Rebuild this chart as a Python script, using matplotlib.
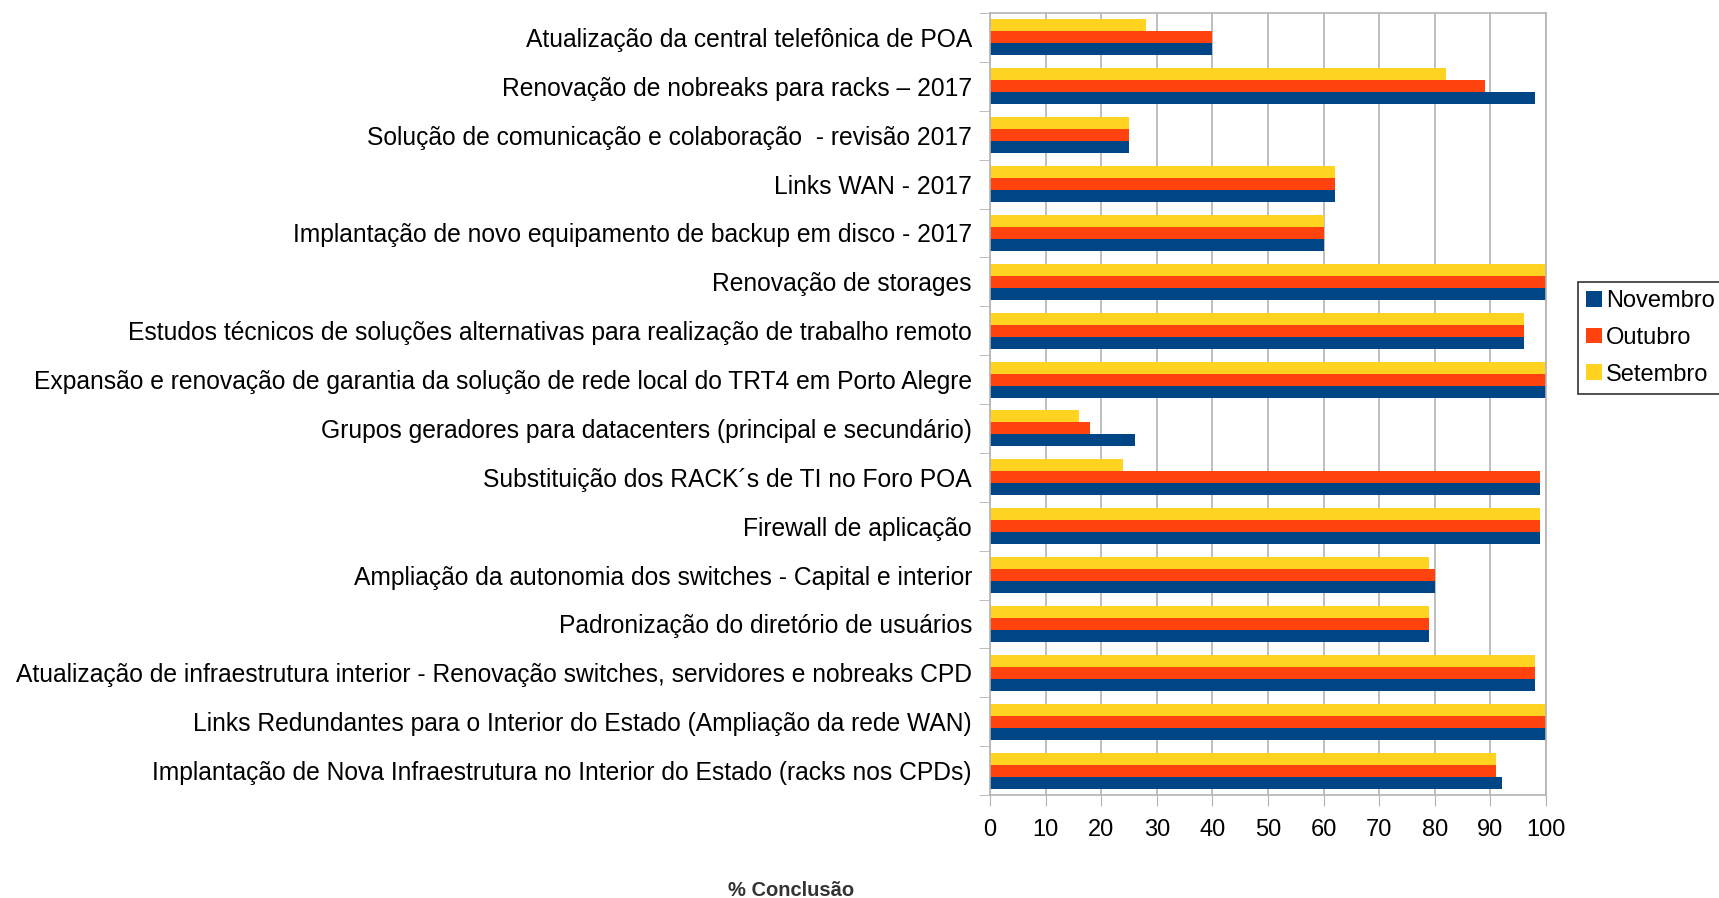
import numpy as np
import matplotlib
matplotlib.use("Agg")
import matplotlib.pyplot as plt

plt.rcParams['font.family'] = ['Liberation Sans', 'DejaVu Sans']

projetos = [
    "Atualização da central telefônica de POA",
    "Renovação de nobreaks para racks – 2017",
    "Solução de comunicação e colaboração  - revisão 2017",
    "Links WAN - 2017",
    "Implantação de novo equipamento de backup em disco - 2017",
    "Renovação de storages",
    "Estudos técnicos de soluções alternativas para realização de trabalho remoto",
    "Expansão e renovação de garantia da solução de rede local do TRT4 em Porto Alegre",
    "Grupos geradores para datacenters (principal e secundário)",
    "Substituição dos RACK´s de TI no Foro POA",
    "Firewall de aplicação",
    "Ampliação da autonomia dos switches - Capital e interior",
    "Padronização do diretório de usuários",
    "Atualização de infraestrutura interior - Renovação switches, servidores e nobreaks CPD",
    "Links Redundantes para o Interior do Estado (Ampliação da rede WAN)",
    "Implantação de Nova Infraestrutura no Interior do Estado (racks nos CPDs)",
]
setembro = [28, 82, 25, 62, 60, 100, 96, 100, 16, 24, 99, 79, 79, 98, 100, 91]
outubro = [40, 89, 25, 62, 60, 100, 96, 100, 18, 99, 99, 80, 79, 98, 100, 91]
novembro = [40, 98, 25, 62, 60, 100, 96, 100, 26, 99, 99, 80, 79, 98, 100, 92]

series = ["Novembro", "Outubro", "Setembro"]
cores = {"Novembro": "#004586", "Outubro": "#ff420e", "Setembro": "#ffd320"}
valores = {"Novembro": novembro, "Outubro": outubro, "Setembro": setembro}
offsets = {"Setembro": -0.245, "Outubro": 0.0, "Novembro": 0.245}

fig = plt.figure(figsize=(17.19, 8.98), dpi=100)
ax = fig.add_axes([990 / 1719, 1 - 795 / 898, 556 / 1719, 782 / 898])

y = np.arange(len(projetos))
for s in series:
    ax.barh(y + offsets[s], valores[s], height=0.245, color=cores[s], label=s, zorder=2)

ax.set_xlim(0, 100)
ax.set_ylim(len(projetos) - 0.5, -0.5)
ax.set_xticks(np.arange(0, 101, 10))
ax.set_yticks(y)
ax.set_yticklabels(projetos)
ax.set_yticks(np.arange(-0.5, len(projetos)), minor=True)
ax.tick_params(axis='y', which='major', length=0, pad=13, labelsize=17.7)
ax.tick_params(axis='y', which='minor', length=8, color='#b3b3b3', direction='out')
ax.tick_params(axis='x', length=8, color='#b3b3b3', labelsize=17, pad=9)
ax.grid(axis='x', color='#b3b3b3', linewidth=1.2, zorder=0)
for sp in ax.spines.values():
    sp.set_color('#b3b3b3')
    sp.set_linewidth(1.2)

fig.text(791 / 1719, 1 - 890 / 898, "% Conclusão", ha='center', va='center',
         fontsize=14.5, fontweight='bold', color='#333333')

h, l = ax.get_legend_handles_labels()
leg = fig.legend(h, l, loc='upper left', bbox_to_anchor=(1578 / 1719, 1 - 282 / 898),
                 fontsize=17, frameon=True, fancybox=False, handlelength=0.65,
                 handleheight=0.65, handletextpad=0.2, borderpad=0.35, labelspacing=0.62,
                 borderaxespad=0)
leg.get_frame().set_edgecolor('black')
leg.get_frame().set_linewidth(1.2)

fig.savefig("out.png", dpi=100)
